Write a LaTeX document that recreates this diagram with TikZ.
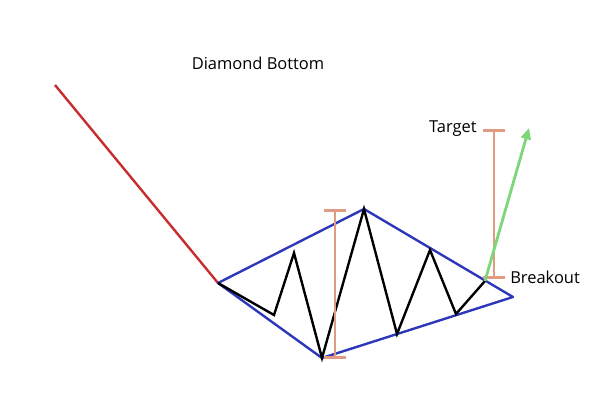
\documentclass[tikz,border=0pt]{standalone}
\usepackage{fontspec}
\setmainfont{Open Sans}
\usetikzlibrary{arrows.meta}

\begin{document}
\begin{tikzpicture}[x=0.025cm, y=-0.025cm,
  trend/.style={line width=1.7pt},
  edge/.style={line width=1.7pt, draw={rgb,255:red,45;green,55;blue,185}, line join=round},
  price/.style={line width=1.7pt, black, line join=miter},
  span/.style={line width=2.1pt, draw={rgb,255:red,225;green,155;blue,130},
     {Bar[width=15pt,line width=2.1pt]}-{Bar[width=15pt,line width=2.1pt]}},
  label/.style={font=\fontsize{11.7}{13}\selectfont, inner sep=0pt}]
\useasboundingbox (0,0) rectangle (600,400);

% start of the downtrend
\coordinate (S) at (55,85);
% diamond corners
\coordinate (L) at (218,283);
\coordinate (T) at (364,209);
\coordinate (R) at (513,297);
\coordinate (B) at (322,358);
% price swings
\coordinate (p1) at (274,315);
\coordinate (p2) at (294,253);
\coordinate (p3) at (397,334);
\coordinate (p4) at (430,250);
\coordinate (p5) at (456,314);
\coordinate (BO) at (485,281);
% measuring bars
\coordinate (h1) at (335,209);
\coordinate (h2) at (335,359);
\coordinate (g1) at (494,129);
\coordinate (g2) at (494,279);
\coordinate (G) at (529,128);

\node[label] (title) at (258,63) {Diamond Bottom};
\node[label, anchor=east] (target) at (477,129) {Target};
\node[label, anchor=west] (breakout) at (510,277) {Breakout};

\draw[trend, draw={rgb,255:red,200;green,45;blue,45}] (S) -- (L);
\draw[edge] (L) -- (T) -- (R) -- (B) -- cycle;
\draw[price] (L) -- (p1) -- (p2) -- (B) -- (T) -- (p3) -- (p4) -- (p5) -- (BO);

\draw[span] (h1) -- (h2);
\draw[span] (g1) -- (g2);

\draw[line width=2pt, draw={rgb,255:red,125;green,215;blue,120},
   fill={rgb,255:red,125;green,215;blue,120},
   -{Triangle[width=7pt,length=8pt]}] (BO) -- (G);
\end{tikzpicture}
\end{document}
